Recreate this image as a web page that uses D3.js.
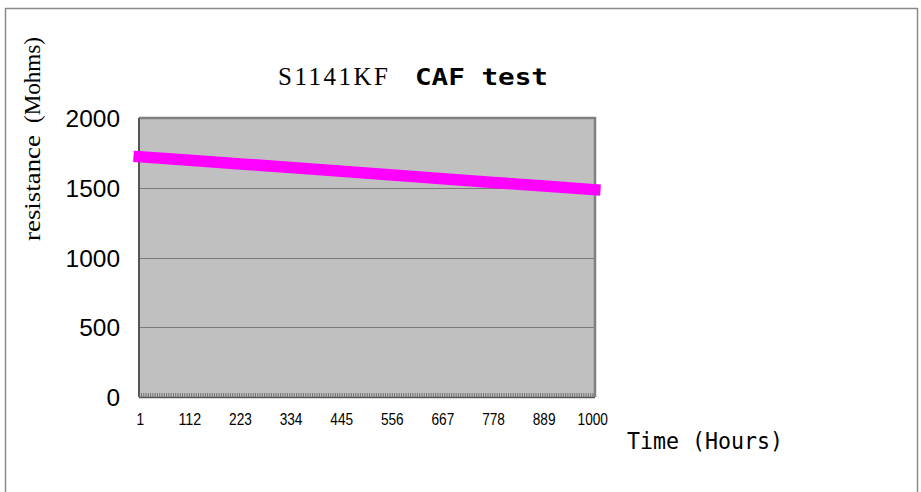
<!DOCTYPE html>
<html><head><meta charset="utf-8">
<script src="https://cdn.jsdelivr.net/npm/d3@7"></script>
<style>body{margin:0;background:#fff}svg{display:block}</style>
</head><body>
<svg id="c" width="921" height="492"></svg>
<script>
const hours = [1, 112, 223, 334, 445, 556, 667, 778, 889, 1000];
const resistance = [1722, 1697, 1671, 1645, 1618, 1591, 1565, 1538, 1512, 1486];
const xTickLabels = ["1","112","223","334","445","556","667","778","889","1000"];
const yTicks = [0, 500, 1000, 1500, 2000];

const svg = d3.select("#c");
// outer frame
svg.append("rect").attr("x",5.5).attr("y",8.5).attr("width",912).attr("height",500)
  .attr("fill","none").attr("stroke","#8a8a8a").attr("stroke-width",1.5);

const L=139, R=595, T=118, B=397;
const x = d3.scaleLinear().domain([0.5,1000.5]).range([L,R]);
const y = d3.scaleLinear().domain([0,2000]).range([B,T]);

svg.append("rect").attr("x",L).attr("y",T).attr("width",R-L).attr("height",B-T).attr("fill","#c0c0c0");
// gridlines
svg.append("g").selectAll("line").data(yTicks.filter(d=>d>0&&d<2000)).join("line")
  .attr("x1",L).attr("x2",R).attr("y1",d=>Math.round(y(d))+0.5).attr("y2",d=>Math.round(y(d))+0.5)
  .attr("stroke","#7a7a7a").attr("stroke-width",1.2);
// frame top/right
svg.append("path").attr("d",`M${L},${T} H${R} V${B}`).attr("fill","none").attr("stroke","#808080").attr("stroke-width",2.5);
svg.append("line").attr("x1",L).attr("x2",L).attr("y1",T).attr("y2",B).attr("stroke","#555").attr("stroke-width",2);
// bottom axis with dense ticks
const tickCats = d3.range(1,1001,5);
svg.append("g").selectAll("line").data(tickCats).join("line")
  .attr("x1",d=>x(d)).attr("x2",d=>x(d)).attr("y1",B-4).attr("y2",B)
  .attr("stroke","#666").attr("stroke-width",0.9);
svg.append("line").attr("x1",L).attr("x2",R).attr("y1",B+0.5).attr("y2",B+0.5).attr("stroke","#555").attr("stroke-width",1.5);

// y tick labels
svg.append("g").selectAll("text").data(yTicks).join("text")
  .attr("x",120).attr("y",d=>y(d)+9).attr("text-anchor","end")
  .attr("font-family","Liberation Sans").attr("font-size",24).attr("fill","#000")
  .attr("textLength",d=>String(d).length*13.6).attr("lengthAdjust","spacingAndGlyphs")
  .text(d=>d);
// x tick labels
svg.append("g").selectAll("text").data(hours).join("text")
  .attr("x",(d,i)=>x(d)+ (i===0?1:(i===9?-2:0))).attr("y",425).attr("text-anchor","middle")
  .attr("font-family","Liberation Sans").attr("font-size",16)
  .attr("textLength",(d,i)=>xTickLabels[i].length*7.6).attr("lengthAdjust","spacingAndGlyphs")
  .text((d,i)=>xTickLabels[i]);

// line
const line = d3.line().x(d=>x(d[0])).y(d=>y(d[1]));
svg.append("path").datum(hours.map((h,i)=>[h,resistance[i]]))
  .attr("d",line).attr("fill","none").attr("stroke","#ff00ff").attr("stroke-width",11.5)
  .attr("stroke-linecap","square");

// title
svg.append("text").attr("x",278).attr("y",85).attr("font-family","Liberation Serif").attr("font-size",25)
  .attr("letter-spacing",2.5).text("S1141KF");
svg.append("text").attr("x",415).attr("y",85).attr("font-family","DejaVu Sans Mono").attr("font-weight","bold")
  .attr("font-size",23).attr("textLength",133).attr("lengthAdjust","spacingAndGlyphs").text("CAF test");
// y label
svg.append("text").attr("transform","translate(40,241) rotate(-90)")
  .attr("font-family","Liberation Serif").attr("font-size",23)
  .attr("textLength",106).attr("lengthAdjust","spacingAndGlyphs").text("resistance");
svg.append("text").attr("transform","translate(40,123) rotate(-90)")
  .attr("font-family","Liberation Serif").attr("font-size",23)
  .attr("textLength",86).attr("lengthAdjust","spacingAndGlyphs").text("(Mohms)");
// x label
svg.append("text").attr("x",627).attr("y",449).attr("font-family","DejaVu Sans Mono").attr("font-size",23)
  .attr("textLength",156).attr("lengthAdjust","spacingAndGlyphs").text("Time (Hours)");
</script>
</body></html>
